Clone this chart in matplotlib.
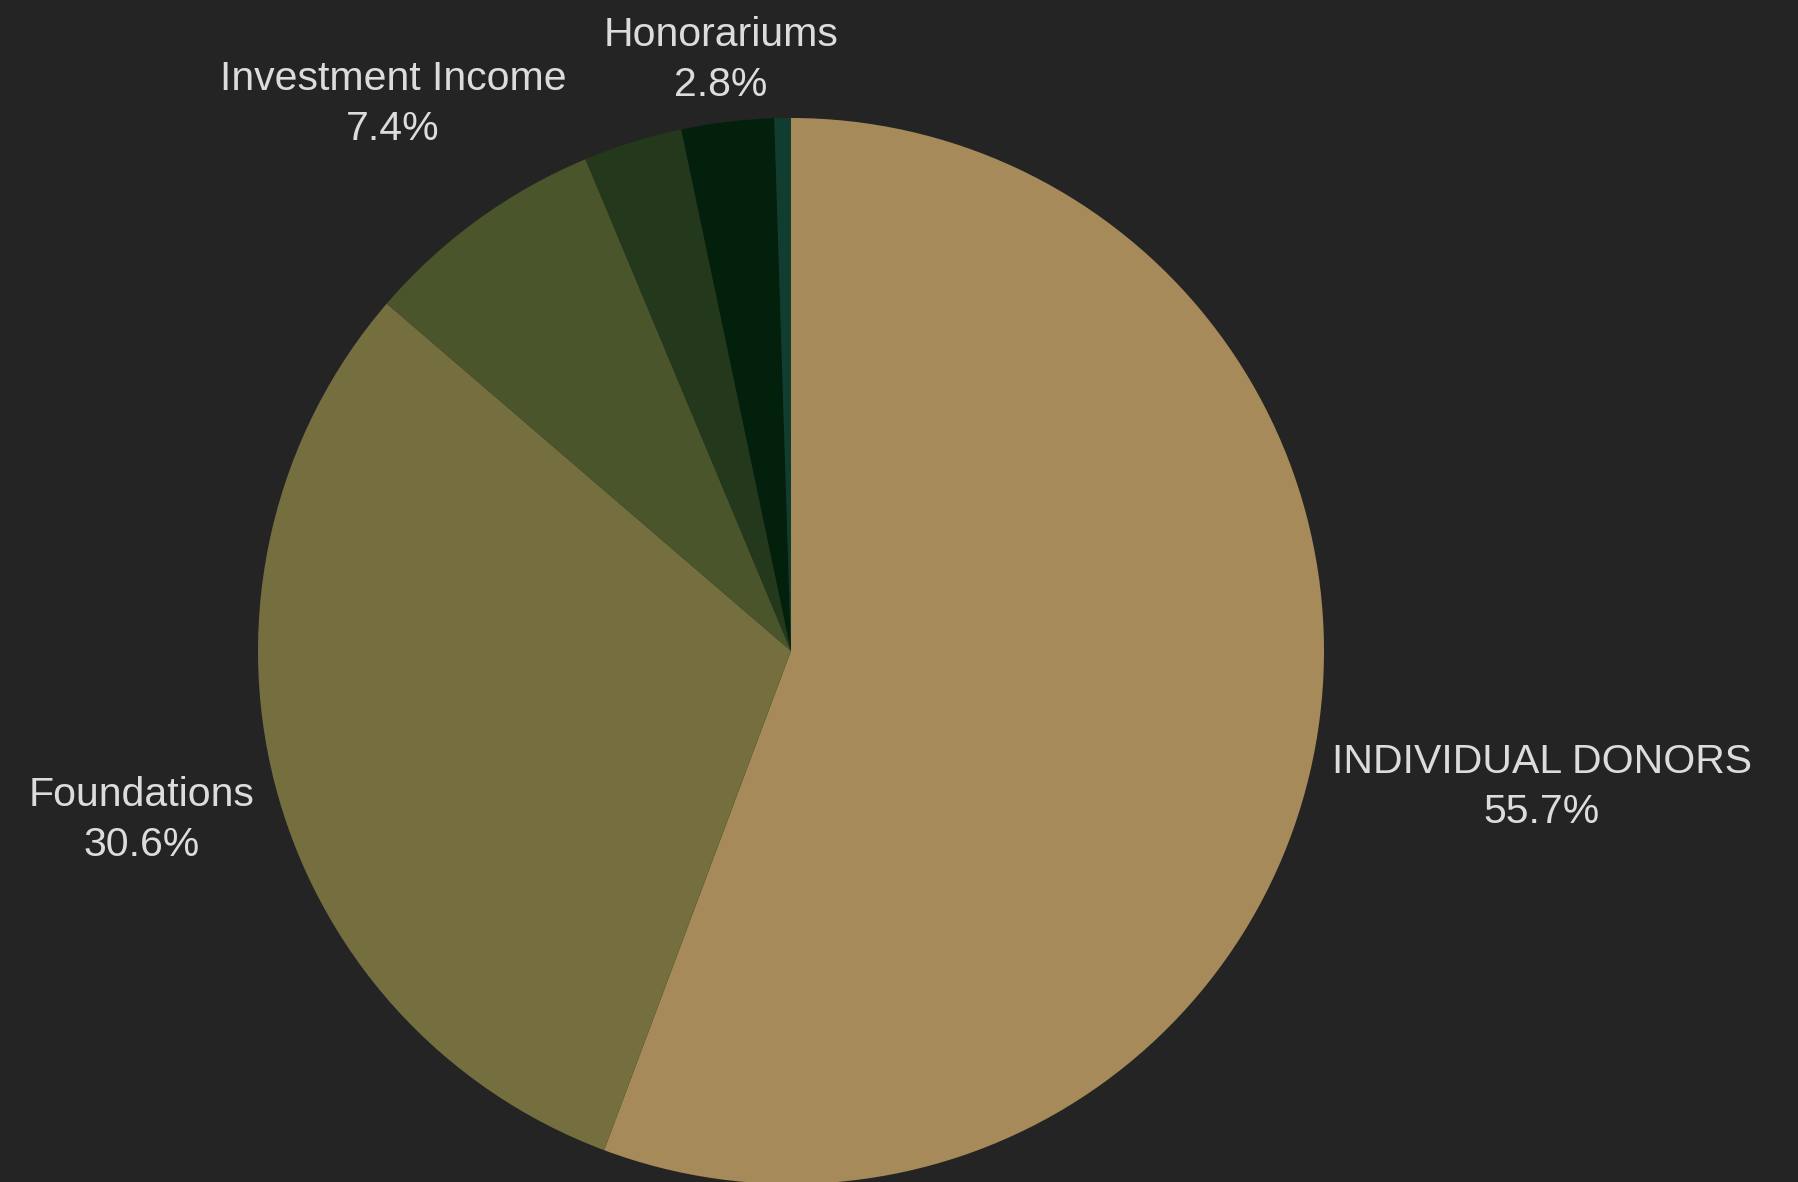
import matplotlib
matplotlib.use("Agg")
import matplotlib.pyplot as plt

# revenue sources, clockwise from 12 o'clock
sources = ["INDIVIDUAL DONORS", "Foundations", "Investment Income",
           "Other", "Honorariums", "Misc"]
shares = [55.7, 30.6, 7.4, 3.0, 2.8, 0.5]
show_label = [True, True, True, False, True, False]
colors = ["#a68a5a", "#756f40", "#4a552b", "#24391c", "#03200d", "#113d30"]

# label centres in data units (pie radius = 1)
label_xy = [(1.409, -0.256), (-1.218, -0.317), (-0.747, 1.026), None,
            (-0.131, 1.108), None]

bg = "#252425"
plt.rcParams["font.family"] = ["Liberation Sans", "DejaVu Sans"]

fig = plt.figure(figsize=(17.98, 11.82), dpi=100)
fig.patch.set_facecolor(bg)
ax = fig.add_axes([0, 0, 1, 1])
ax.set_facecolor(bg)

ax.pie(shares, colors=colors, startangle=90, counterclock=False,
       radius=1.0, wedgeprops=dict(linewidth=0))

total = sum(shares)
for name, val, show, xy in zip(sources, shares, show_label, label_xy):
    if not show:
        continue
    ax.text(xy[0], xy[1], f"{name}\n{val / total * 100:.1f}%",
            ha="center", va="center", fontsize=29.5, color="#dcdcdc",
            linespacing=1.4)

# centre at (791, 651) px, radius 533 px
ax.set_xlim(-791 / 533, (1798 - 791) / 533)
ax.set_ylim((651 - 1182) / 533, 651 / 533)
ax.set_aspect("auto")
ax.axis("off")

fig.savefig("out.png", dpi=100, facecolor=bg)
